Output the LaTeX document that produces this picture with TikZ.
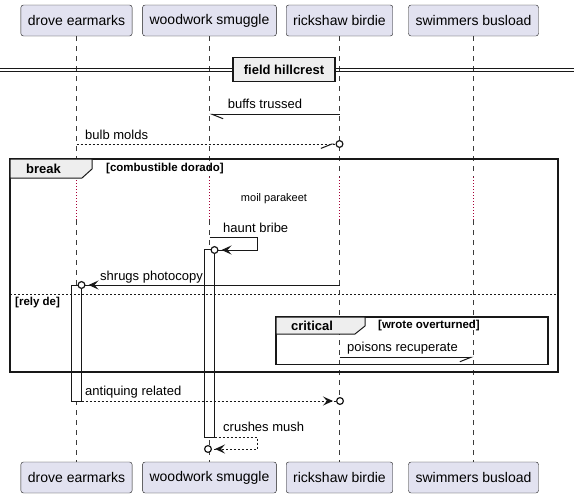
\documentclass[tikz,border=0pt]{standalone}
\usepackage{fontspec}
\setmainfont{Liberation Sans}
\usetikzlibrary{arrows.meta}
\definecolor{partfill}{HTML}{E2E2F0}
\definecolor{partline}{HTML}{181818}
\definecolor{tabfill}{HTML}{EEEEEE}
\definecolor{delayline}{HTML}{A80036}

\begin{document}
\begin{tikzpicture}[x=1pt,y=-1pt,
	part/.style={draw=partline,fill=partfill,rounded corners=2.5pt,minimum height=31pt,inner xsep=7pt,inner ysep=0pt,font=\fontsize{14}{16}\selectfont},
	lbl/.style={anchor=west,inner sep=0pt,font=\fontsize{13}{15}\selectfont},
	hdr/.style={inner sep=0pt,font=\fontsize{13}{15}\selectfont\bfseries},
	cond/.style={anchor=west,inner sep=0pt,font=\fontsize{11.5}{13}\selectfont\bfseries},
	life/.style={partline!85,line width=.6pt,dash pattern=on 5pt off 5pt},
	delay/.style={delayline,line width=.7pt,dash pattern=on 1pt off 2pt},
	msg/.style={partline,line width=1pt},
	reply/.style={msg,dash pattern=on 2pt off 2pt},
	frm/.style={partline,line width=1.5pt},
	act/.style={draw=partline,fill=white,line width=1pt},
	arrhead/.tip={Stealth[length=10pt,width=9pt,inset=4pt,sep=3pt]},
	endring/.tip={Circle[fill=white,length=8pt,width=8pt,line width=1.2pt]},
	barbL/.tip={Straight Barb[left,length=11pt,width=8.8pt,line width=1pt]},
	barbR/.tip={Straight Barb[right,length=11pt,width=8.8pt,line width=1pt]}
	]
	\useasboundingbox (0,0) rectangle (574,498);
	
	% participants
	\node[part] (drTop) at (76.5,20.5){drove earmarks};
	\node[part] (wsTop) at (209.5,20.5){woodwork smuggle};
	\node[part] (rbTop) at (339.5,20.5){rickshaw birdie};
	\node[part] (sbTop) at (473.5,20.5){swimmers busload};
	\node[part] (drBot) at (76.5,477.5){drove earmarks};
	\node[part] (wsBot) at (209.5,477.5){woodwork smuggle};
	\node[part] (rbBot) at (339.5,477.5){rickshaw birdie};
	\node[part] (sbBot) at (473.5,477.5){swimmers busload};
	
	\coordinate (drD1) at (76.5,177);
	\coordinate (drD2) at (76.5,220);
	\coordinate (wsD1) at (209.5,177);
	\coordinate (wsD2) at (209.5,220);
	\coordinate (rbD1) at (339.5,177);
	\coordinate (rbD2) at (339.5,220);
	\coordinate (sbD1) at (473.5,177);
	\coordinate (sbD2) at (473.5,220);
	
	\draw[life] (drTop) -- (drD1);
	\draw[delay] (drD1) -- (drD2);
	\draw[life] (drD2) -- (drBot);
	\draw[life] (wsTop) -- (wsD1);
	\draw[delay] (wsD1) -- (wsD2);
	\draw[life] (wsD2) -- (wsBot);
	\draw[life] (rbTop) -- (rbD1);
	\draw[delay] (rbD1) -- (rbD2);
	\draw[life] (rbD2) -- (rbBot);
	\draw[life] (sbTop) -- (sbD1);
	\draw[delay] (sbD1) -- (sbD2);
	\draw[life] (sbD2) -- (sbBot);
	
	% activations
	\draw[act] (71.5,285) rectangle (81.5,401);
	\draw[act] (204.5,249.5) rectangle (214.5,437);
	
	% separator
	\draw[partline,line width=1pt] (0,68.3) -- (574,68.3);
	\draw[partline,line width=1pt] (0,71) -- (574,71);
	\node[hdr,draw=partline,fill=tabfill,line width=1.5pt,minimum width=102pt,minimum height=24pt] (sepHill) at (284,69.5){field hillcrest};
	
	% break group
	\draw[frm] (10,159) rectangle (558,372);
	\filldraw[draw=partline,fill=tabfill,line width=1pt] (10,159) -- (92,159) -- (92,169) -- (82,178) -- (10,178) -- cycle;
	\node[hdr] (brk) at (43.5,169){break};
	\node[cond] (brkCond) at (106,169){[combustible dorado]};
	\draw[partline,line width=.8pt,dash pattern=on 2pt off 2pt] (10,294) -- (558,294);
	\node[cond] (elseCond) at (15,303){[rely de]};
	
	% critical group
	\draw[frm] (276,317) rectangle (548,364.5);
	\filldraw[draw=partline,fill=tabfill,line width=1pt] (276,317) -- (365,317) -- (365,326) -- (355,334) -- (276,334) -- cycle;
	\node[hdr] (crit) at (312,326){critical};
	\node[cond] (critCond) at (378,326){[wrote overturned]};
	
	% messages
	\coordinate (rbM1) at (339.5,114.3);
	\coordinate (wsM1) at (209.5,114.3);
	\draw[msg,-{barbL[]}] (rbM1) -- (wsM1);
	\node[lbl] (m1) at (227.7,104){buffs trussed};
	
	\coordinate (drM2) at (76.5,144);
	\coordinate (rbM2) at (343.5,144);
	\draw[reply,-{barbR[sep=1pt] endring[]}] (drM2) -- (rbM2);
	\node[lbl] (m2) at (85,134.5){bulb molds};
	
	\node[inner sep=0pt,font=\fontsize{11}{13}\selectfont] (dly) at (274,199){moil parakeet};
	
	\coordinate (hb1) at (209.5,237);
	\coordinate (hb2) at (257,237);
	\coordinate (hb3) at (257,250);
	\coordinate (hb4) at (210.5,250);
	\draw[msg,-{arrhead[] endring[]}] (hb1) -- (hb2) -- (hb3) -- (hb4);
	\node[lbl] (m3) at (223,228){haunt bribe};
	
	\coordinate (rbM4) at (339.5,285);
	\coordinate (drM4) at (77.5,285);
	\draw[msg,-{arrhead[] endring[]}] (rbM4) -- (drM4);
	\node[lbl] (m4) at (100,277){shrugs photocopy};
	
	\coordinate (rbM5) at (339.5,357.3);
	\coordinate (sbM5) at (473.5,357.3);
	\draw[msg,-{barbR[]}] (rbM5) -- (sbM5);
	\node[lbl] (m5) at (347,348){poisons recuperate};
	
	\coordinate (drM6) at (81.5,401);
	\coordinate (rbM6) at (344,401);
	\draw[reply,-{arrhead[] endring[]}] (drM6) -- (rbM6);
	\node[lbl] (m6) at (85,392){antiquing related};
	
	\coordinate (cm1) at (214.5,437);
	\coordinate (cm2) at (257,437);
	\coordinate (cm3) at (257,449);
	\coordinate (cm4) at (204,449);
	\draw[reply,-{arrhead[] endring[]}] (cm1) -- (cm2) -- (cm3) -- (cm4);
	\node[lbl] (m7) at (223,427){crushes mush};
\end{tikzpicture}
\end{document}
